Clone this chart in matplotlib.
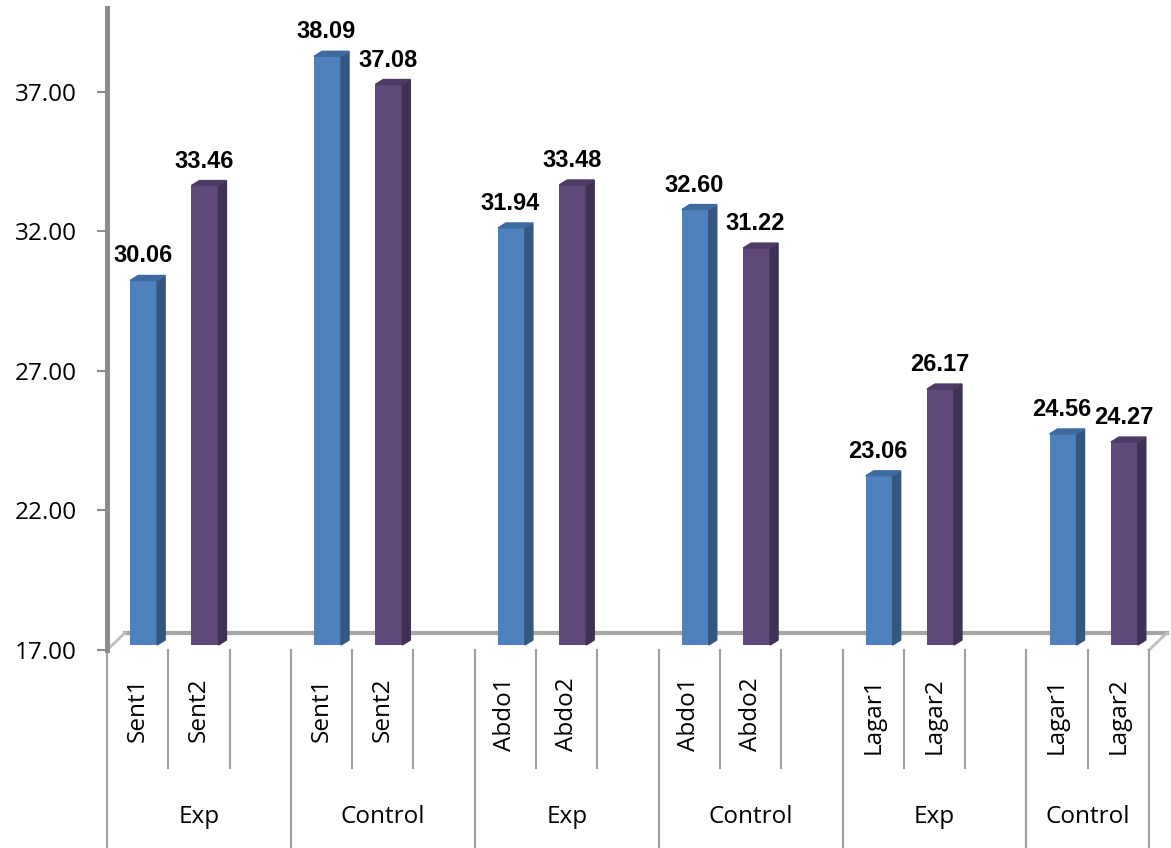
import numpy as np
import matplotlib
matplotlib.use("Agg")
import matplotlib.pyplot as plt
from matplotlib.patches import Polygon
from matplotlib.transforms import offset_copy, IdentityTransform

# measurements, two per group (pre / post)
groups = ['Exp', 'Control', 'Exp', 'Control', 'Exp', 'Control']
sub_labels = [['Sent1', 'Sent2'], ['Sent1', 'Sent2'],
              ['Abdo1', 'Abdo2'], ['Abdo1', 'Abdo2'],
              ['Lagar1', 'Lagar2'], ['Lagar1', 'Lagar2']]
values = [[30.06, 33.46], [38.09, 37.08],
          [31.94, 33.48], [32.60, 31.22],
          [23.06, 26.17], [24.56, 24.27]]
yticks = [17, 22, 27, 32, 37]

front = ['#4f81bd', '#604a7b']
side = ['#34567f', '#3f3151']
cap = ['#3f6aa0', '#4d3b66']
grey = '#8c8c8c'
base = 17

fig = plt.figure(figsize=(11.71, 8.48), dpi=100)
ax = fig.add_axes([107 / 1171, 198 / 848, 1042 / 1171, 642 / 848])
ax.set_xlim(-0.5, 16.5)
ax.set_ylim(17, 40)

for s in ['top', 'right', 'bottom']:
    ax.spines[s].set_visible(False)
ax.spines['left'].set_color(grey)
ax.spines['left'].set_linewidth(3.6)
ax.set_xticks([])
ax.set_yticks(yticks)
ax.set_yticklabels(['%.2f' % t for t in yticks], fontfamily='Open Sans', fontsize=17.5)
ax.tick_params(axis='y', direction='out', length=7, width=1.5, color=grey, pad=15)

# bars sit a little back on the floor
bar_tr = offset_copy(ax.transData, fig, x=6, y=5, units='dots')
dx, dy = 8, 5
width = 0.44

# floor back edge and corners
floor_tr = offset_copy(ax.transAxes, fig, x=18, y=17, units='dots')
ax.plot([0, 1.0], [0, 0], color='#a6a6a6', lw=3, transform=floor_tr, clip_on=False, zorder=1)
x0, y0 = ax.transAxes.transform((0, 0))
x1, _ = ax.transAxes.transform((1, 0))
for xa in (x0, x1):
    ax.add_artist(plt.Line2D([xa, xa + 18], [y0, y0 + 17], color='#bfbfbf', lw=2,
                             transform=IdentityTransform(), clip_on=False, zorder=1))

for g, (grp, labs, vals) in enumerate(zip(groups, sub_labels, values)):
    for k in range(2):
        xi = 3 * g + k
        v = vals[k]
        ax.bar(xi, v - base, bottom=base, width=width, color=front[k],
               transform=bar_tr, zorder=3, clip_on=False)
        bl = bar_tr.transform((xi - width / 2, base))
        tr = bar_tr.transform((xi + width / 2, v))
        side_pts = [(tr[0], bl[1]), (tr[0] + dx, bl[1] + dy),
                    (tr[0] + dx, tr[1] + dy), (tr[0], tr[1])]
        cap_pts = [(bl[0], tr[1]), (bl[0] + dx, tr[1] + dy),
                   (tr[0] + dx, tr[1] + dy), (tr[0], tr[1])]
        ax.add_patch(Polygon(side_pts, closed=True, color=side[k], transform=IdentityTransform(),
                             clip_on=False, zorder=3))
        ax.add_patch(Polygon(cap_pts, closed=True, color=cap[k], transform=IdentityTransform(),
                             clip_on=False, zorder=3))
        ax.annotate('%.2f' % v, xy=(xi, v), xytext=(5, 23), textcoords='offset pixels',
                    ha='center', va='baseline', fontsize=17, fontweight='bold',
                    fontfamily='Liberation Sans', zorder=4)
        # category label under each bar
        ax.annotate(labs[k], xy=(xi, 0), xycoords=ax.get_xaxis_transform(),
                    xytext=(0, -27), textcoords='offset pixels', rotation=90,
                    ha='center', va='top', fontsize=17.5, fontfamily='Open Sans')

    # dividers between the two bars and after the second
    xt = ax.get_xaxis_transform()
    for xs in (3 * g + 0.5, 3 * g + 1.5):
        if xs < 16.5:
            ax.plot([xs, xs], [0, -0.184], color='#a0a0a0', lw=1.5, transform=xt, clip_on=False)
    left = 3 * g - 0.5
    right = min(3 * g + 2.5, 16.5)
    for xs in (left, right):
        ax.plot([xs, xs], [0, -0.32], color='#a0a0a0', lw=1.5, transform=xt, clip_on=False)
    ax.text((left + right) / 2, -0.26, grp, transform=xt, ha='center', va='center',
            fontsize=17.5, fontfamily='Open Sans')

fig.savefig('out.png', dpi=100)
